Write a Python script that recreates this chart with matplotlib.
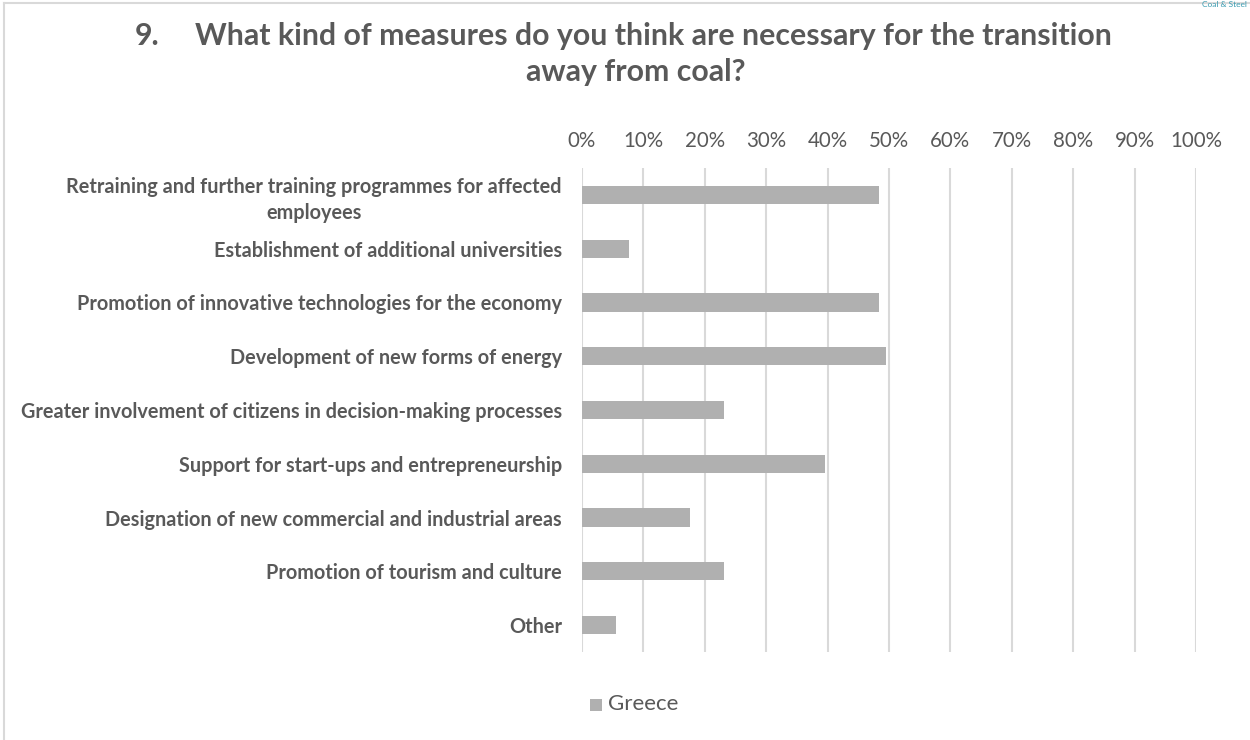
import matplotlib
matplotlib.use("Agg")
import matplotlib.pyplot as plt
from matplotlib.lines import Line2D
from matplotlib.patches import Rectangle
from matplotlib.ticker import FuncFormatter

categories = [
    "Retraining and further training programmes for affected\nemployees",
    "Establishment of additional universities",
    "Promotion of innovative technologies for the economy",
    "Development of new forms of energy",
    "Greater involvement of citizens in decision-making processes",
    "Support for start-ups and entrepreneurship",
    "Designation of new commercial and industrial areas",
    "Promotion of tourism and culture",
    "Other",
]
greece = [0.484, 0.077, 0.484, 0.495, 0.231, 0.396, 0.176, 0.231, 0.056]
series_name = "Greece"
x_ticks = [i / 10 for i in range(11)]

TEXT = "#595959"
BAR = "#b0b0b0"
GRID = "#d9d9d9"

plt.rcParams["font.family"] = ["Lato", "DejaVu Sans"]

W, H = 1250, 740
fig = plt.figure(figsize=(W / 100, H / 100), dpi=100)
fig.patch.set_facecolor("white")

ax = fig.add_axes([582 / W, 1 - 652 / H, (1196 - 582) / W, (652 - 168) / H])
ypos = list(range(len(categories)))
ax.barh(ypos, greece, height=0.34, color=BAR, zorder=3, label=series_name)
ax.set_ylim(len(categories) - 0.5, -0.5)
ax.set_xlim(0, 1)
ax.set_xticks(x_ticks)
ax.xaxis.set_major_formatter(FuncFormatter(lambda v, p: f"{round(v * 100)}%"))
ax.xaxis.tick_top()
ax.tick_params(axis="x", length=0, pad=12, labelsize=14.8, labelcolor=TEXT)
ax.grid(axis="x", color=GRID, linewidth=1.5, zorder=0)
for s in ax.spines.values():
    s.set_visible(False)
ax.set_yticks(ypos)
ax.set_yticklabels(categories, fontsize=14.3, fontweight="bold", color=TEXT,
                   multialignment="center", linespacing=1.4)
ax.tick_params(axis="y", length=0, pad=14.4)

# title
fig.text(135 / W, 1 - 36 / H, "9.", fontsize=21.8, fontweight="bold", color=TEXT,
         ha="left", va="center")
fig.text(195 / W, 1 - 36 / H,
         "What kind of measures do you think are necessary for the transition",
         fontsize=21.8, fontweight="bold", color=TEXT, ha="left", va="center")
fig.text(636 / W, 1 - 72 / H, "away from coal?", fontsize=21.8, fontweight="bold",
         color=TEXT, ha="center", va="center")

# legend
fig.patches.append(Rectangle((590 / W, 1 - 711 / H), 12 / W, 12 / H,
                             transform=fig.transFigure, facecolor=BAR,
                             edgecolor="none"))
fig.text(608 / W, 1 - 704 / H, series_name, fontsize=16, color=TEXT,
         ha="left", va="center")

# chart frame
fig.add_artist(Line2D([4 / W, 4 / W], [0, 1 - 3 / H], color=GRID, linewidth=1.5,
                      transform=fig.transFigure))
fig.add_artist(Line2D([4 / W, 1], [1 - 3 / H, 1 - 3 / H], color=GRID,
                      linewidth=1.5, transform=fig.transFigure))

# header mark in the top-right corner
fig.text(1 - 3 / W, 1 - 1 / H, "Coal & Steel", fontsize=6, color="#3a9bb0",
         ha="right", va="top")

fig.savefig("out.png", dpi=100, facecolor="white")
